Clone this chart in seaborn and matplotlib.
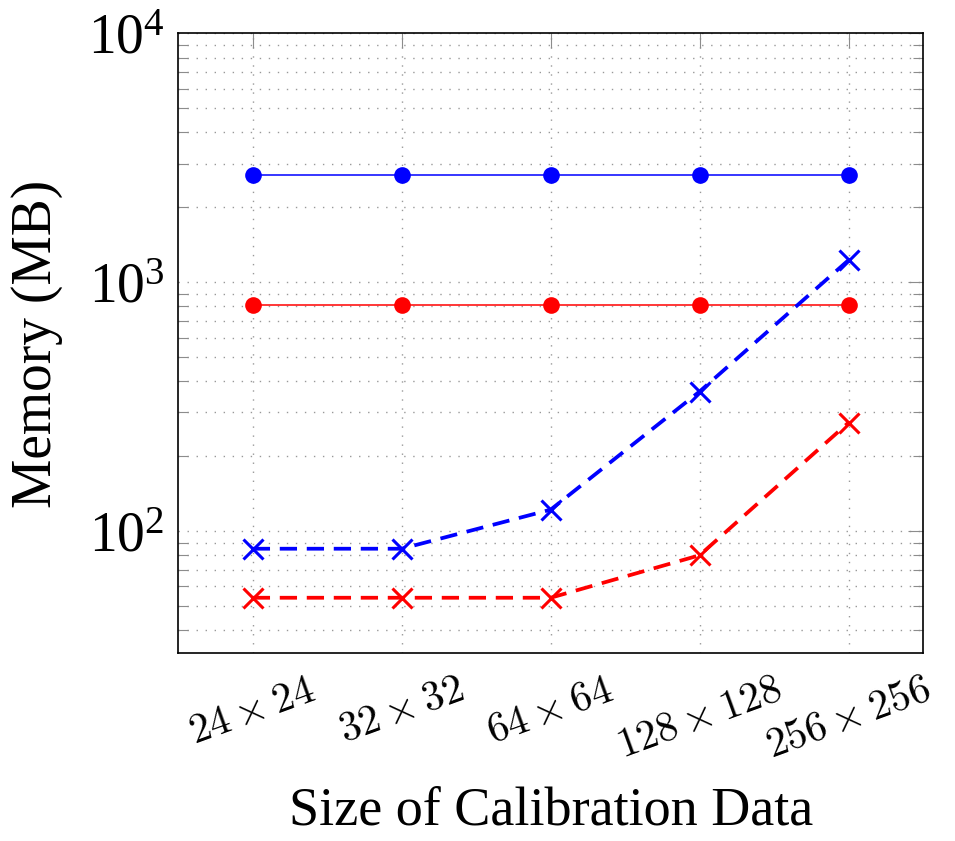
import numpy as np
import pandas as pd
import seaborn as sns
import matplotlib
matplotlib.use("Agg")
import matplotlib.pyplot as plt
from matplotlib.ticker import LogLocator, NullFormatter

sizes = [24, 32, 64, 128, 256]
size_labels = [f"${s}\\times{s}$" for s in sizes]

# memory in MB
blue_solid = [2700, 2700, 2700, 2700, 2700]
red_solid = [810, 810, 810, 810, 810]
blue_dashed = [85, 85, 122, 364, 1228]
red_dashed = [54, 54, 54, 80, 273]

sns.set_style("white")
plt.rcParams["mathtext.fontset"] = "cm"
plt.rcParams["font.family"] = ["Liberation Serif", "DejaVu Serif"]
plt.rcParams["text.color"] = "black"
plt.rcParams["axes.labelcolor"] = "black"
plt.rcParams["xtick.labelcolor"] = "black"
plt.rcParams["ytick.labelcolor"] = "black"

fig = plt.figure(figsize=(9.55, 8.41), dpi=100)
ax = fig.add_axes([0.1867, 0.2232, 0.9665 - 0.1867, 0.9602 - 0.2232])

ax.set_yscale("log")

def draw(vals, color, solid):
    df = pd.DataFrame({"size": size_labels, "mem": vals})
    if solid:
        sns.lineplot(data=df, x="size", y="mem", ax=ax, sort=False, color=color,
                     lw=1.1, marker="o", markersize=12, mec=color, mfc=color, mew=0)
    else:
        sns.lineplot(data=df, x="size", y="mem", ax=ax, sort=False, color=color,
                     lw=2.7, linestyle=(0, (4.6, 2.6)), marker="x", markersize=15,
                     mec=color, mew=2.2)

draw(blue_solid, "#0000ff", True)
draw(red_solid, "#ff0000", True)
draw(blue_dashed, "#0000ff", False)
draw(red_dashed, "#ff0000", False)

ax.set_xlim(-0.5, 4.5)
ax.set_ylim(32.3, 1e4)
ax.yaxis.set_major_locator(LogLocator(base=10, numticks=10))
ax.yaxis.set_minor_locator(LogLocator(base=10, subs=np.arange(2, 10), numticks=20))
ax.yaxis.set_minor_formatter(NullFormatter())

ax.grid(True, which="major", axis="both", color="0.6", linestyle=(0, (1, 5.5)), lw=1.0)
ax.grid(True, which="minor", axis="y", color="0.6", linestyle=(0, (1, 5.5)), lw=1.0)

ax.tick_params(axis="both", which="major", direction="in", color="0.55",
               length=11, width=0.8, top=True, right=True)
ax.tick_params(axis="y", which="minor", direction="in", color="0.55",
               length=7, width=0.8, left=True, right=True)
ax.tick_params(axis="y", which="major", labelsize=40, pad=10)
ax.tick_params(axis="x", which="major", labelsize=30, pad=13)
for lab in ax.get_xticklabels():
    lab.set_rotation(20)
    lab.set_ha("center")
    lab.set_va("top")

for sp in ax.spines.values():
    sp.set_color("black")
    sp.set_linewidth(1.2)

ax.set_xlabel("Size of Calibration Data", fontsize=39, labelpad=14)
ax.set_ylabel("Memory (MB)", fontsize=40, labelpad=18)

fig.savefig("out.png", dpi=100)
